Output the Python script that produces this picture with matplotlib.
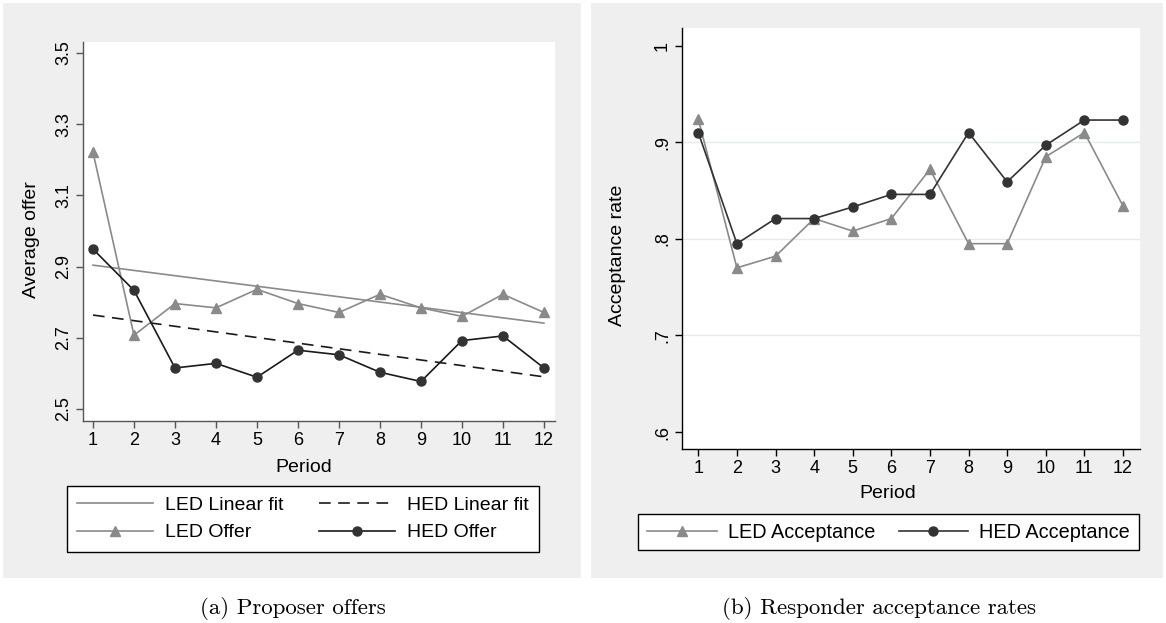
import numpy as np
import matplotlib
matplotlib.use("Agg")
import matplotlib.pyplot as plt
from matplotlib.patches import Rectangle

plt.rcParams['font.family'] = ['Liberation Sans', 'DejaVu Sans']

# data
periods = list(range(1, 13))
led_offer = [3.221, 2.707, 2.796, 2.784, 2.836, 2.796, 2.771, 2.822, 2.784, 2.760, 2.822, 2.771]
hed_offer = [2.949, 2.833, 2.615, 2.628, 2.589, 2.665, 2.652, 2.603, 2.577, 2.692, 2.705, 2.615]
led_accept = [0.924, 0.770, 0.782, 0.821, 0.808, 0.821, 0.872, 0.795, 0.795, 0.885, 0.910, 0.834]
hed_accept = [0.910, 0.795, 0.821, 0.821, 0.833, 0.846, 0.846, 0.910, 0.859, 0.897, 0.923, 0.923]
offer_ticks = [2.5, 2.7, 2.9, 3.1, 3.3, 3.5]
accept_ticks = [0.6, 0.7, 0.8, 0.9, 1.0]
accept_labels = ['.6', '.7', '.8', '.9', '1']

W, H = 1166, 623
LED_C = '#8a8a8a'
HED_C = '#1a1a1a'
HED_M = '#333333'
BG = '#efefef'
FS = 13      # tick labels
LFS = 14     # axis titles / legend

fig = plt.figure(figsize=(W / 100, H / 100), dpi=100)
fig.patch.set_facecolor('white')

def px_box(x0, y0, x1, y1):
    # convert pixel box (top-left origin) to figure fraction
    return [x0 / W, 1 - y1 / H, (x1 - x0) / W, (y1 - y0) / H]

# grey panel backgrounds
for x0, x1 in [(3, 581), (591, 1163)]:
    b = px_box(x0, 3, x1, 578)
    fig.patches.append(Rectangle((b[0], b[1]), b[2], b[3], transform=fig.transFigure,
                                 facecolor=BG, edgecolor='none', zorder=-5))

def style_axis(ax, spine_c):
    ax.set_zorder(3)
    for s in ['top', 'right']:
        ax.spines[s].set_visible(False)
    for s in ['left', 'bottom']:
        ax.spines[s].set_color(spine_c)
        ax.spines[s].set_linewidth(1.0)
    ax.tick_params(direction='out', length=5, width=1, color=spine_c, labelsize=FS, pad=3)
    ax.set_xticks(periods)
    for lab in ax.get_yticklabels():
        lab.set_rotation(90)
        lab.set_va('center')

# ---- (a) proposer offers ----
ax1 = fig.add_axes(px_box(83, 42, 555, 421))
x = np.array(periods)
fit_led = np.polyval(np.polyfit(x, led_offer, 1), x)
fit_hed = np.polyval(np.polyfit(x, hed_offer, 1), x)
h1, = ax1.plot(x, fit_led, color=LED_C, lw=1.2, label='LED Linear fit')
h2, = ax1.plot(x, fit_hed, color=HED_C, lw=1.2, ls=(0, (7, 4.5)), label='HED Linear fit')
h3, = ax1.plot(x, led_offer, color=LED_C, lw=1.2, marker='^', ms=7.5, mec=LED_C, mfc=LED_C,
               label='LED Offer')
h4, = ax1.plot(x, hed_offer, color=HED_C, lw=1.2, marker='o', ms=6.5, mec=HED_M, mfc=HED_M,
               label='HED Offer')
ax1.set_xlim(0.756, 12.27)
ax1.set_ylim(2.466, 3.531)
ax1.set_yticks(offer_ticks)
ax1.set_yticklabels([f'{t:.1f}' for t in offer_ticks])
style_axis(ax1, '#555555')

fig.text(31 / W, 1 - 240 / H, 'Average offer', rotation=90, ha='center', va='center', fontsize=LFS)
fig.text(304 / W, 1 - 467 / H, 'Period', ha='center', va='center', fontsize=LFS)

leg1 = fig.legend([h1, h3, h2, h4], ['LED Linear fit', 'LED Offer', 'HED Linear fit', 'HED Offer'],
                  ncol=2, loc='center', bbox_to_anchor=(303 / W, 1 - 519 / H), fontsize=LFS,
                  handlelength=3.9, handletextpad=0.62, columnspacing=1.8, labelspacing=0.5,
                  borderpad=0.55, fancybox=False, framealpha=1, edgecolor='black')
leg1.get_frame().set_linewidth(1.0)

# ---- (b) responder acceptance rates ----
ax2 = fig.add_axes(px_box(682, 28, 1140, 449))
for g in [0.7, 0.8, 0.9]:
    ax2.axhline(g, color='#e3ecec', lw=1.0, zorder=0)
k1, = ax2.plot(x, led_accept, color=LED_C, lw=1.2, marker='^', ms=7.5, mec=LED_C, mfc=LED_C,
               label='LED Acceptance')
k2, = ax2.plot(x, hed_accept, color=HED_M, lw=1.2, marker='o', ms=6.5, mec=HED_M, mfc=HED_M,
               label='HED Acceptance')
ax2.set_xlim(0.578, 12.44)
ax2.set_ylim(0.5824, 1.0183)
ax2.set_yticks(accept_ticks)
ax2.set_yticklabels(accept_labels)
style_axis(ax2, 'black')

fig.text(618 / W, 1 - 255 / H, 'Acceptance rate', rotation=90, ha='center', va='center', fontsize=LFS)
fig.text(888 / W, 1 - 493 / H, 'Period', ha='center', va='center', fontsize=LFS)

leg2 = fig.legend([k1, k2], ['LED Acceptance', 'HED Acceptance'],
                  ncol=2, loc='center', bbox_to_anchor=(888.5 / W, 1 - 532 / H), fontsize=14.3,
                  handlelength=3.5, handletextpad=0.55, columnspacing=1.2,
                  borderpad=0.45, fancybox=False, framealpha=1, edgecolor='black')
leg2.get_frame().set_linewidth(1.0)

# captions
fig.text(293 / W, 1 - 608 / H, '(a) Proposer offers', ha='center', va='center',
         fontsize=16.5, family='cmr10')
fig.text(879 / W, 1 - 608 / H, '(b) Responder acceptance rates', ha='center', va='center',
         fontsize=16.5, family='cmr10')

fig.savefig('out.png', dpi=100)
